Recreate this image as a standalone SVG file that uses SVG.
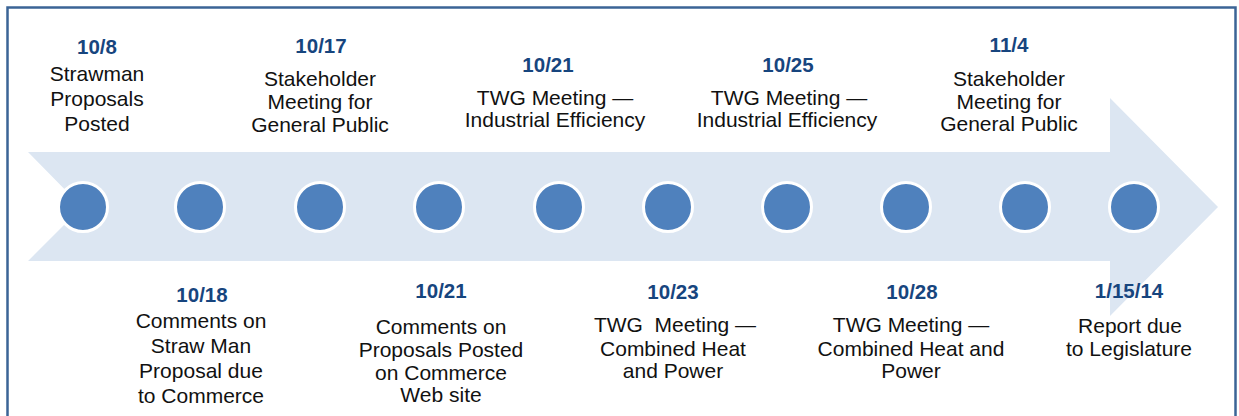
<svg xmlns="http://www.w3.org/2000/svg" width="1239" height="416" viewBox="0 0 1239 416">
<style>
.date{font-family:"Liberation Sans",Arial,sans-serif;font-weight:bold;font-size:20.5px;fill:#17457E;text-anchor:middle}
.lbl{font-family:"Liberation Sans",Arial,sans-serif;font-size:21px;fill:#111;text-anchor:middle}
.dot{fill:#4F81BD;stroke:#FFFFFF;stroke-width:3}
</style>
<rect x="0" y="0" width="1239" height="416" fill="#FFFFFF"/>
<rect x="7.5" y="7.5" width="1228" height="420" fill="none" stroke="#3B6496" stroke-width="2.5"/>
<g id="timeline-arrow">
<polygon points="28,152 1110,152 1110,98 1218,207 1110,316 1110,261 28,261 82,207" fill="#DCE6F2"/>
</g>
<g id="connectors"></g>
<g id="n1"><circle class="dot" cx="83" cy="207" r="24.5"/><text class="date" x="97" y="54">10/8</text><text class="lbl" x="97" y="81">Strawman</text><text class="lbl" x="97" y="106">Proposals</text><text class="lbl" x="97" y="131">Posted</text></g>
<g id="n2"><circle class="dot" cx="200" cy="207" r="24.5"/><text class="date" x="202" y="302">10/18</text><text class="lbl" x="201" y="328">Comments on</text><text class="lbl" x="201" y="353">Straw Man</text><text class="lbl" x="201" y="378">Proposal due</text><text class="lbl" x="201" y="403">to Commerce</text></g>
<g id="n3"><circle class="dot" cx="320" cy="207" r="24.5"/><text class="date" x="321" y="53">10/17</text><text class="lbl" x="320" y="86">Stakeholder</text><text class="lbl" x="320" y="109">Meeting for</text><text class="lbl" x="320" y="132">General Public</text></g>
<g id="n4"><circle class="dot" cx="439" cy="207" r="24.5"/><text class="date" x="441" y="298">10/21</text><text class="lbl" x="441" y="334">Comments on</text><text class="lbl" x="441" y="357">Proposals Posted</text><text class="lbl" x="441" y="380">on Commerce</text><text class="lbl" x="441" y="402">Web site</text></g>
<g id="n5"><circle class="dot" cx="559" cy="207" r="24.5"/><text class="date" x="548" y="72">10/21</text><text class="lbl" x="555" y="105">TWG Meeting —</text><text class="lbl" x="555" y="127">Industrial Efficiency</text></g>
<g id="n6"><circle class="dot" cx="668" cy="207" r="24.5"/><text class="date" x="673" y="299">10/23</text><text class="lbl" x="675" y="332">TWG&#160; Meeting —</text><text class="lbl" x="673" y="356">Combined Heat</text><text class="lbl" x="673" y="378">and Power</text></g>
<g id="n7"><circle class="dot" cx="787" cy="207" r="24.5"/><text class="date" x="788" y="72">10/25</text><text class="lbl" x="789" y="105">TWG Meeting —</text><text class="lbl" x="787" y="127">Industrial Efficiency</text></g>
<g id="n8"><circle class="dot" cx="906" cy="207" r="24.5"/><text class="date" x="912" y="299">10/28</text><text class="lbl" x="911" y="332">TWG Meeting —</text><text class="lbl" x="911" y="356">Combined Heat and</text><text class="lbl" x="911" y="378">Power</text></g>
<g id="n9"><circle class="dot" cx="1025" cy="207" r="24.5"/><text class="date" x="1009" y="52">11/4</text><text class="lbl" x="1009" y="86">Stakeholder</text><text class="lbl" x="1009" y="109">Meeting for</text><text class="lbl" x="1009" y="131">General Public</text></g>
<g id="n10"><circle class="dot" cx="1134" cy="207" r="24.5"/><text class="date" x="1129" y="298">1/15/14</text><text class="lbl" x="1130" y="333">Report due</text><text class="lbl" x="1129" y="356">to Legislature</text></g>
</svg>
